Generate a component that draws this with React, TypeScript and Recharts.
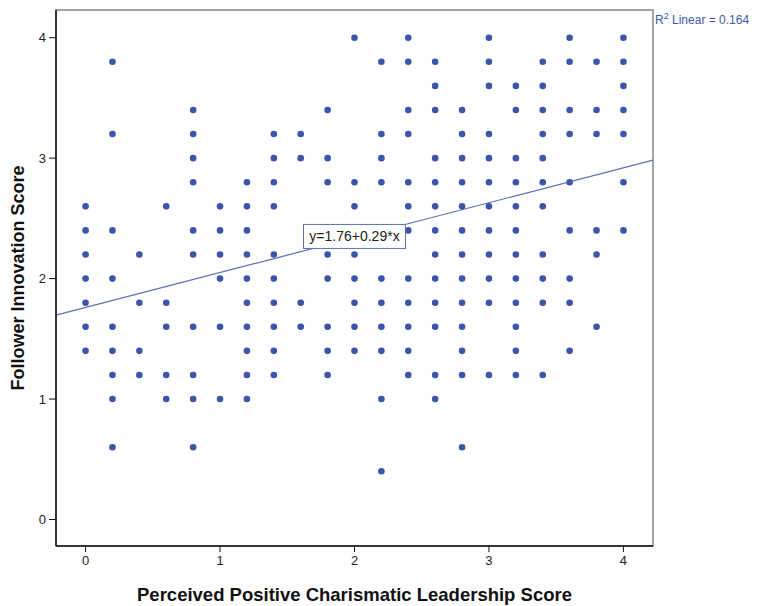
import { ScatterChart, Scatter, XAxis, YAxis, ReferenceLine, ReferenceArea, ReferenceDot, Label } from 'recharts';

// x positions (leadership score) and the follower scores seen at each one
const leadershipScores = [0, 0.2, 0.4, 0.6, 0.8, 1.0, 1.2, 1.4, 1.6, 1.8, 2.0, 2.2, 2.4, 2.6, 2.8, 3.0, 3.2, 3.4, 3.6, 3.8, 4.0];
const innovationByColumn = [
  [2.6, 2.4, 2.2, 2.0, 1.8, 1.6, 1.4],
  [3.8, 3.2, 2.4, 2.0, 1.6, 1.4, 1.2, 1.0, 0.6],
  [2.2, 1.8, 1.4, 1.2],
  [2.6, 1.8, 1.6, 1.2, 1.0],
  [3.4, 3.2, 3.0, 2.8, 2.4, 2.2, 1.6, 1.2, 1.0, 0.6],
  [2.6, 2.4, 2.2, 2.0, 1.6, 1.0],
  [2.8, 2.6, 2.4, 2.2, 2.0, 1.8, 1.6, 1.4, 1.2, 1.0],
  [3.2, 3.0, 2.8, 2.6, 2.2, 2.0, 1.8, 1.6, 1.4, 1.2],
  [3.2, 3.0, 1.8, 1.6],
  [3.4, 3.0, 2.8, 2.2, 2.0, 1.6, 1.4, 1.2],
  [4.0, 2.8, 2.6, 2.2, 2.0, 1.8, 1.6, 1.4],
  [3.8, 3.2, 3.0, 2.8, 2.0, 1.8, 1.6, 1.4, 1.0, 0.4],
  [4.0, 3.8, 3.4, 3.2, 2.8, 2.6, 2.4, 2.0, 1.8, 1.6, 1.4, 1.2],
  [3.8, 3.6, 3.4, 3.0, 2.8, 2.6, 2.4, 2.2, 2.0, 1.8, 1.6, 1.2, 1.0],
  [3.4, 3.2, 3.0, 2.8, 2.6, 2.4, 2.2, 2.0, 1.8, 1.6, 1.4, 1.2, 0.6],
  [4.0, 3.8, 3.6, 3.2, 3.0, 2.8, 2.6, 2.4, 2.2, 2.0, 1.8, 1.2],
  [3.6, 3.4, 3.0, 2.8, 2.6, 2.4, 2.2, 2.0, 1.8, 1.6, 1.4, 1.2],
  [3.8, 3.6, 3.4, 3.2, 3.0, 2.8, 2.6, 2.2, 2.0, 1.8, 1.2],
  [4.0, 3.8, 3.4, 3.2, 2.8, 2.4, 2.0, 1.8, 1.4],
  [3.8, 3.4, 3.2, 2.4, 2.2, 1.6],
  [4.0, 3.8, 3.6, 3.4, 3.2, 2.8, 2.4],
];
const xTicks = [0, 1, 2, 3, 4];
const yTicks = [0, 1, 2, 3, 4];
const xDomain = [-0.22, 4.22];
const yDomain = [-0.22, 4.23];

const intercept = 1.76;
const slope = 0.29;
const fitLabel = 'y=1.76+0.29*x';
const rSquared = '0.164';

const points = leadershipScores.flatMap((x, i) => innovationByColumn[i].map((y) => ({ x, y })));

const dotColor = '#3b55a8';
const font = '"Liberation Sans", Arial, sans-serif';

const Dot = (p: any) => <circle cx={p.cx} cy={p.cy} r={3.3} fill={dotColor} />;

const FitBox = (p: any) => (
  <g>
    <rect x={p.cx - 51} y={p.cy - 12} width={102} height={24} fill="#fff" stroke="#5a72b8" strokeWidth={1} />
    <text x={p.cx} y={p.cy + 5} textAnchor="middle" fontSize={14} fontFamily={font} fill="#222">
      {fitLabel}
    </text>
  </g>
);

export default function App() {
  return (
    <div style={{ position: 'absolute', left: 0, top: 0, width: 758, height: 606, background: '#fff' }}>
      <ScatterChart width={758} height={606} margin={{ top: 10, right: 105, bottom: 0, left: 0 }}>
        <XAxis
          dataKey="x"
          type="number"
          domain={xDomain}
          ticks={xTicks}
          height={60}
          axisLine={{ stroke: '#111', strokeWidth: 1.5 }}
          tickLine={{ stroke: '#111' }}
          tickSize={6}
          tickMargin={4}
          tick={{ fill: '#222', fontSize: 13, fontFamily: font }}
        >
          <Label
            value="Perceived Positive Charismatic Leadership Score"
            position="insideBottom"
            offset={5}
            style={{ fontSize: 18.5, fontWeight: 'bold', fill: '#111', fontFamily: font }}
          />
        </XAxis>
        <YAxis
          dataKey="y"
          type="number"
          domain={yDomain}
          ticks={yTicks}
          width={56}
          axisLine={{ stroke: '#111', strokeWidth: 1.5 }}
          tickLine={{ stroke: '#111' }}
          tickSize={7}
          tickMargin={3}
          tick={{ fill: '#222', fontSize: 13, fontFamily: font }}
        >
          <Label
            value="Follower Innovation Score"
            angle={-90}
            position="insideLeft"
            offset={18}
            style={{ textAnchor: 'middle', fontSize: 18, fontWeight: 'bold', fill: '#111', fontFamily: font }}
          />
        </YAxis>
        <ReferenceArea
          x1={xDomain[0]}
          x2={xDomain[1]}
          y1={yDomain[0]}
          y2={yDomain[1]}
          fill="none"
          stroke="#888"
          strokeWidth={1.5}
        />
        <Scatter data={points} shape={Dot} isAnimationActive={false} />
        <ReferenceLine
          segment={[
            { x: xDomain[0], y: intercept + slope * xDomain[0] },
            { x: xDomain[1], y: intercept + slope * xDomain[1] },
          ]}
          stroke="#5a72b8"
          strokeWidth={1.2}
        />
        <ReferenceDot x={2.0} y={2.35} shape={FitBox} />
      </ScatterChart>
      <div
        style={{
          position: 'absolute',
          left: 655,
          top: 11,
          fontFamily: font,
          fontSize: 12,
          color: '#3f5aab',
          whiteSpace: 'nowrap',
        }}
      >
        R<sup style={{ fontSize: 9 }}>2</sup> Linear = {rSquared}
      </div>
    </div>
  );
}
